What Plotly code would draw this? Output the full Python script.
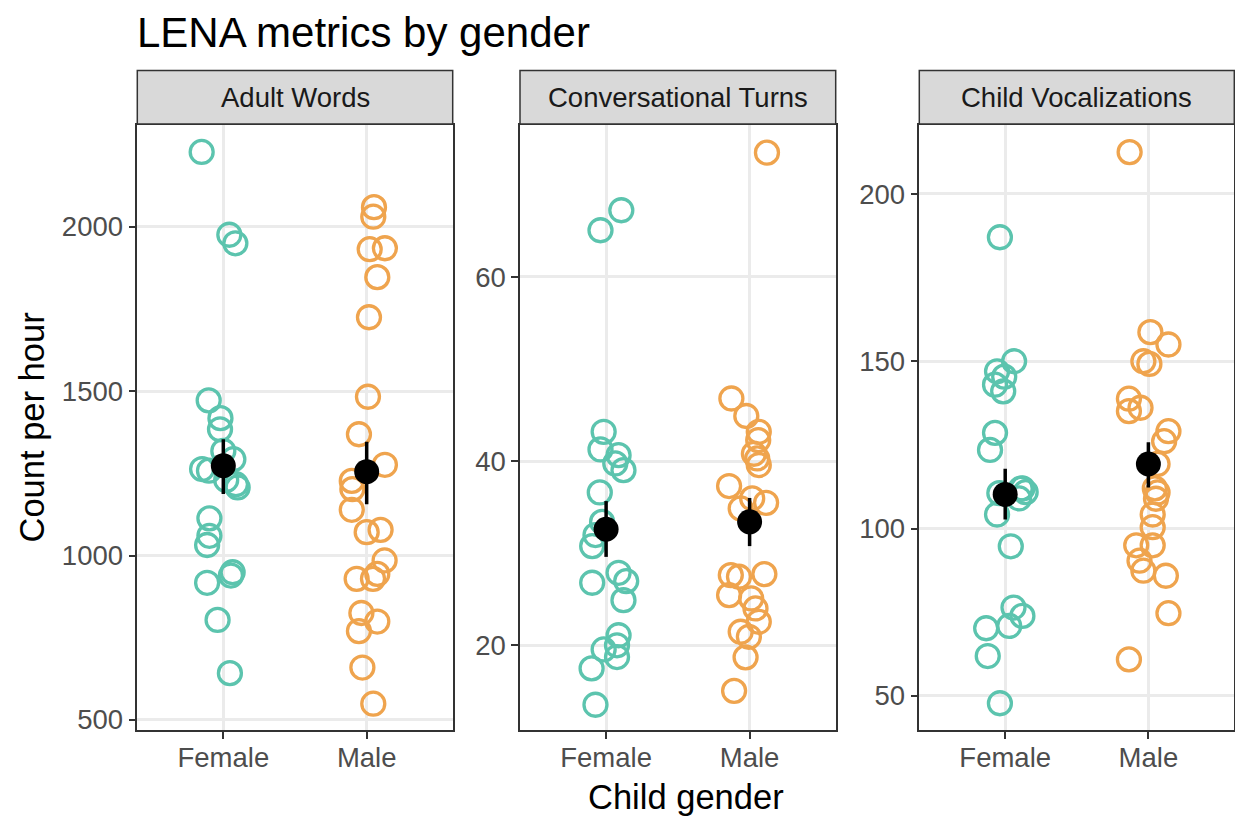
import plotly.graph_objects as go

W, H = 1235, 816

genders = ["Female", "Male"]
metrics = ["Adult Words", "Conversational Turns", "Child Vocalizations"]

# Adult Words (count per hour)
aw_female = [2228, 1976, 1950, 1472, 1418, 1384, 1318, 1293, 1263, 1258, 1230, 1217, 1207,
             1113, 1060, 1032, 949, 939, 917, 804, 642]
aw_female_jit = [-0.151, 0.042, 0.084, -0.102, -0.02, -0.023, 0.0, 0.07, -0.148, -0.1, 0.02, 0.088, 0.1,
                 -0.097, -0.097, -0.113, 0.065, 0.053, -0.113, -0.04, 0.046]
aw_male = [2060, 2031, 1935, 1932, 1847, 1725, 1483, 1369, 1276, 1227, 1202, 1139, 1078, 1071,
           985, 944, 929, 929, 825, 799, 770, 659, 549]
aw_male_jit = [0.051, 0.046, 0.127, 0.021, 0.074, 0.016, 0.009, -0.054, 0.127, -0.104, -0.1, -0.104, 0.097, 0.0,
               0.125, 0.074, 0.044, -0.07, -0.037, 0.074, -0.054, -0.03, 0.046]

# Conversational Turns
ct_female = [67.24, 65.07, 43.18, 41.27, 40.65, 39.75, 39.02, 36.6, 33.4, 31.97, 30.77, 27.87, 26.97,
             26.79, 24.9, 21.09, 20.0, 19.55, 18.72, 17.49, 13.54]
ct_female_jit = [0.106, -0.039, -0.017, -0.039, 0.087, 0.064, 0.121, -0.044, -0.028, -0.074, -0.097, 0.087, 0.14,
                 -0.097, 0.121, 0.087, 0.076, -0.017, 0.076, -0.101, -0.074]
ct_male = [73.5, 46.8, 44.9, 43.18, 42.28, 40.8, 40.29, 39.57, 37.29, 35.95, 35.47, 34.86, 27.73, 27.62,
           27.44, 25.45, 25.09, 24.0, 22.55, 21.47, 20.92, 18.69, 15.05]
ct_male_jit = [0.121, -0.127, -0.023, 0.064, 0.06, 0.03, 0.053, 0.064, -0.143, 0.018, 0.115, -0.062, 0.103, -0.131,
               -0.074, -0.143, 0.011, 0.041, 0.064, -0.062, -0.005, -0.028, -0.108]

# Child Vocalizations
cv_female = [187.06, 150.0, 147.0, 145.4, 143.0, 141.0, 128.6, 123.5, 112.0, 111.9, 110.9, 110.6, 109.0,
             104.2, 94.7, 76.4, 73.9, 70.9, 70.2, 61.9, 47.8]
cv_female_jit = [-0.037, 0.062, -0.057, -0.007, -0.071, -0.014, -0.071, -0.106, 0.12, 0.108, 0.143, -0.041, 0.097,
                 -0.057, 0.039, 0.058, 0.12, 0.028, -0.133, -0.122, -0.037]
cv_male = [212.5, 158.7, 155.0, 150.0, 149.2, 138.8, 136.1, 135.1, 129.1, 126.1, 119.3, 112.0, 110.8, 108.9,
           104.2, 100.4, 95.0, 95.0, 90.4, 87.4, 85.9, 74.7, 60.9]
cv_male_jit = [-0.131, 0.014, 0.14, -0.035, 0.007, -0.136, -0.055, -0.136, 0.14, 0.11, 0.064, 0.045, 0.064, 0.053,
               0.03, 0.03, 0.03, -0.085, -0.062, -0.035, 0.122, 0.14, -0.136]

# Summary (mean, lower, upper) per gender
aw_mean = [1273, 1255]; aw_lo = [1187, 1156]; aw_hi = [1354, 1346]
ct_mean = [32.6, 33.41]; ct_lo = [29.6, 30.77]; ct_hi = [35.66, 36.0]
cv_mean = [110.2, 119.3]; cv_lo = [102.7, 112.3]; cv_hi = [117.9, 125.8]

y_ticks = [[500, 1000, 1500, 2000], [20, 40, 60], [50, 100, 150, 200]]
y_ranges = [[469, 2310], [10.8, 76.5], [39.8, 220.6]]

COLORS = {"Female": "#5CC4AE", "Male": "#EFA44E"}
FONT = "Liberation Sans, Arial, Helvetica, sans-serif"

panels = [
    (aw_female, aw_female_jit, aw_male, aw_male_jit, aw_mean, aw_lo, aw_hi),
    (ct_female, ct_female_jit, ct_male, ct_male_jit, ct_mean, ct_lo, ct_hi),
    (cv_female, cv_female_jit, cv_male, cv_male_jit, cv_mean, cv_lo, cv_hi),
]

# panel pixel extents
px_left = [137.3, 520.0, 919.3]
px_right = [452.7, 835.7, 1234.3]
py_top, py_bot = 125.0, 730.0

def fx(px):
    return px / W

def fy(py):
    return 1 - py / H

fig = go.Figure()

for i, (fv, fj, mv, mj, mean, lo, hi) in enumerate(panels):
    xa = "x" if i == 0 else f"x{i+1}"
    ya = "y" if i == 0 else f"y{i+1}"
    for g, vals, jit in (("Female", fv, fj), ("Male", mv, mj)):
        base = genders.index(g) + 1
        fig.add_trace(go.Scatter(
            x=[base + j for j in jit], y=vals, mode="markers",
            marker=dict(symbol="circle-open", size=23, color=COLORS[g], line=dict(width=3.3)),
            xaxis=xa, yaxis=ya, showlegend=False, hoverinfo="skip"))
    fig.add_trace(go.Scatter(
        x=[1, 2], y=mean, mode="markers",
        marker=dict(symbol="circle", size=25, color="black"),
        error_y=dict(type="data", symmetric=False,
                     array=[h - m for h, m in zip(hi, mean)],
                     arrayminus=[m - l for m, l in zip(mean, lo)],
                     color="black", thickness=3.5, width=0),
        xaxis=xa, yaxis=ya, showlegend=False, hoverinfo="skip"))

layout = dict(
    width=W, height=H, margin=dict(l=0, r=0, t=0, b=0, pad=0),
    paper_bgcolor="white", plot_bgcolor="white",
    font=dict(family=FONT, color="#4D4D4D"),
    showlegend=False,
)

shapes = []
annotations = []
for i in range(3):
    xk = "xaxis" if i == 0 else f"xaxis{i+1}"
    yk = "yaxis" if i == 0 else f"yaxis{i+1}"
    xa = "x" if i == 0 else f"x{i+1}"
    layout[xk] = dict(
        domain=[fx(px_left[i]), fx(px_right[i])], range=[0.4, 2.6],
        tickvals=[1, 2], ticktext=genders, anchor=xa.replace("x", "y"),
        showgrid=True, gridcolor="#EBEBEB", gridwidth=2.5, zeroline=False,
        showline=True, mirror=True, linecolor="#333333", linewidth=1.5,
        ticks="outside", ticklen=7, tickwidth=2, tickcolor="#333333", automargin=False,
        ticklabelstandoff=-5,
        tickfont=dict(size=27.5, color="#4D4D4D", family=FONT), fixedrange=True)
    layout[yk] = dict(
        domain=[fy(py_bot), fy(py_top)], range=y_ranges[i], anchor=xa,
        tickvals=y_ticks[i], ticktext=[str(t) for t in y_ticks[i]],
        showgrid=True, gridcolor="#EBEBEB", gridwidth=2.5, zeroline=False,
        showline=True, mirror=True, linecolor="#333333", linewidth=1.5,
        ticks="outside", ticklen=7, tickwidth=2, tickcolor="#333333", automargin=False,
        tickfont=dict(size=27.5, color="#4D4D4D", family=FONT), fixedrange=True)
    # strip
    shapes.append(dict(type="rect", xref="paper", yref="paper",
                       x0=fx(px_left[i]), x1=fx(px_right[i]), y0=fy(124), y1=fy(70.5),
                       fillcolor="#D9D9D9", line=dict(color="#333333", width=1.5), layer="above"))
    annotations.append(dict(text=metrics[i], xref="paper", yref="paper",
                            x=fx((px_left[i] + px_right[i]) / 2), y=fy(97.5),
                            xanchor="center", yanchor="middle", showarrow=False,
                            font=dict(size=27.5, color="#1A1A1A", family=FONT)))

annotations.append(dict(text="LENA metrics by gender", xref="paper", yref="paper",
                        x=fx(135), y=fy(33), xanchor="left", yanchor="middle", showarrow=False,
                        font=dict(size=42, color="black", family=FONT)))
annotations.append(dict(text="Count per hour", xref="paper", yref="paper",
                        x=fx(31), y=fy(427.5), xanchor="center", yanchor="middle", showarrow=False,
                        textangle=-90, font=dict(size=34.5, color="black", family=FONT)))
annotations.append(dict(text="Child gender", xref="paper", yref="paper",
                        x=fx(686), y=fy(797), xanchor="center", yanchor="middle", showarrow=False,
                        font=dict(size=34.5, color="black", family=FONT)))

layout["shapes"] = shapes
layout["annotations"] = annotations
fig.update_layout(**layout)

fig.write_html("out.html")
